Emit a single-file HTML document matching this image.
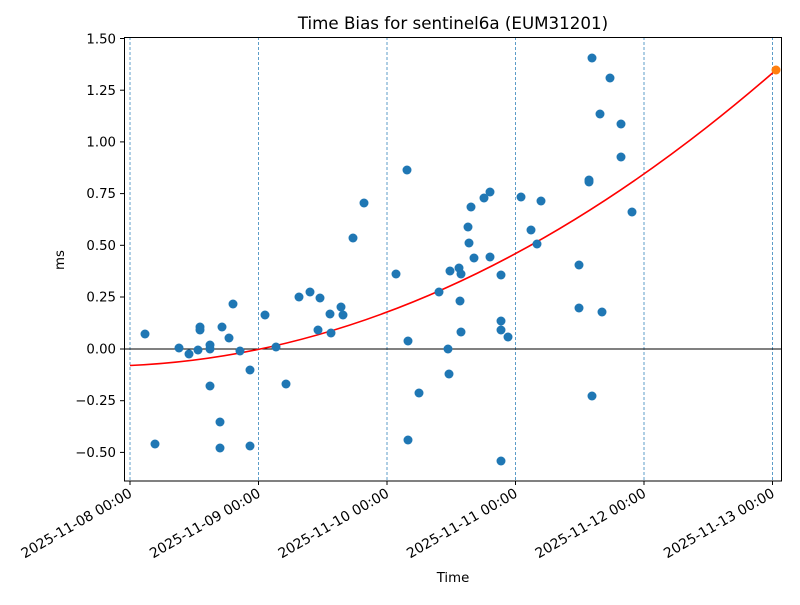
<!DOCTYPE html><html><head><style>body{margin:0;background:#fff}svg text{font-family:"DejaVu Sans","Liberation Sans",sans-serif;fill:#000}</style></head><body>
<svg width="800" height="600" xmlns="http://www.w3.org/2000/svg">
<rect width="800" height="600" fill="#fff"/>
<g stroke="#1f77b4" stroke-width="0.8" stroke-dasharray="3,2" opacity="0.9">
<line x1="130" y1="37" x2="130" y2="481"/><line x1="258.5" y1="37" x2="258.5" y2="481"/><line x1="387" y1="37" x2="387" y2="481"/><line x1="515.5" y1="37" x2="515.5" y2="481"/><line x1="644" y1="37" x2="644" y2="481"/><line x1="772.5" y1="37" x2="772.5" y2="481"/>
</g>
<line x1="124" y1="349" x2="782" y2="349" stroke="#000" stroke-width="1"/>
<path d="M130 365.5 Q453 351.6 776 70" fill="none" stroke="red" stroke-width="1.6"/>
<g fill="#1f77b4">
<circle cx="145" cy="334" r="4.5"/><circle cx="155" cy="444" r="4.5"/><circle cx="179" cy="348" r="4.5"/><circle cx="189" cy="354" r="4.5"/><circle cx="198" cy="350" r="4.5"/><circle cx="200" cy="327" r="4.5"/><circle cx="200" cy="330" r="4.5"/><circle cx="210" cy="345" r="4.5"/><circle cx="210" cy="349" r="4.5"/><circle cx="210" cy="386" r="4.5"/><circle cx="220" cy="422" r="4.5"/><circle cx="220" cy="448" r="4.5"/><circle cx="222" cy="327" r="4.5"/><circle cx="229" cy="338" r="4.5"/><circle cx="233" cy="304" r="4.5"/><circle cx="240" cy="351" r="4.5"/><circle cx="250" cy="370" r="4.5"/><circle cx="250" cy="446" r="4.5"/><circle cx="265" cy="315" r="4.5"/><circle cx="276" cy="347" r="4.5"/><circle cx="286" cy="384" r="4.5"/><circle cx="299" cy="297" r="4.5"/><circle cx="310" cy="292" r="4.5"/><circle cx="318" cy="330" r="4.5"/><circle cx="320" cy="298" r="4.5"/><circle cx="330" cy="314" r="4.5"/><circle cx="331" cy="333" r="4.5"/><circle cx="341" cy="307" r="4.5"/><circle cx="343" cy="315" r="4.5"/><circle cx="353" cy="238" r="4.5"/><circle cx="364" cy="203" r="4.5"/><circle cx="396" cy="274" r="4.5"/><circle cx="407" cy="170" r="4.5"/><circle cx="408" cy="341" r="4.5"/><circle cx="408" cy="440" r="4.5"/><circle cx="419" cy="393" r="4.5"/><circle cx="439" cy="292" r="4.5"/><circle cx="448" cy="349" r="4.5"/><circle cx="449" cy="374" r="4.5"/><circle cx="450" cy="271" r="4.5"/><circle cx="459" cy="268" r="4.5"/><circle cx="460" cy="301" r="4.5"/><circle cx="461" cy="274" r="4.5"/><circle cx="461" cy="332" r="4.5"/><circle cx="468" cy="227" r="4.5"/><circle cx="469" cy="243" r="4.5"/><circle cx="471" cy="207" r="4.5"/><circle cx="474" cy="258" r="4.5"/><circle cx="484" cy="198" r="4.5"/><circle cx="490" cy="192" r="4.5"/><circle cx="490" cy="257" r="4.5"/><circle cx="501" cy="275" r="4.5"/><circle cx="501" cy="321" r="4.5"/><circle cx="501" cy="330" r="4.5"/><circle cx="501" cy="461" r="4.5"/><circle cx="508" cy="337" r="4.5"/><circle cx="521" cy="197" r="4.5"/><circle cx="531" cy="230" r="4.5"/><circle cx="537" cy="244" r="4.5"/><circle cx="541" cy="201" r="4.5"/><circle cx="579" cy="265" r="4.5"/><circle cx="579" cy="308" r="4.5"/><circle cx="589" cy="180" r="4.5"/><circle cx="589" cy="182" r="4.5"/><circle cx="592" cy="58" r="4.5"/><circle cx="592" cy="396" r="4.5"/><circle cx="600" cy="114" r="4.5"/><circle cx="602" cy="312" r="4.5"/><circle cx="610" cy="78" r="4.5"/><circle cx="621" cy="124" r="4.5"/><circle cx="621" cy="157" r="4.5"/><circle cx="632" cy="212" r="4.5"/>
</g>
<circle cx="776" cy="70" r="4.5" fill="#ff7f0e"/>
<rect x="124.5" y="37.5" width="657" height="443.5" fill="none" stroke="#000" stroke-width="1"/>
<g stroke="#000" stroke-width="1">
<line x1="120" y1="38.5" x2="124" y2="38.5"/><line x1="120" y1="90.2" x2="124" y2="90.2"/><line x1="120" y1="141.9" x2="124" y2="141.9"/><line x1="120" y1="193.6" x2="124" y2="193.6"/><line x1="120" y1="245.3" x2="124" y2="245.3"/><line x1="120" y1="297" x2="124" y2="297"/><line x1="120" y1="349" x2="124" y2="349"/><line x1="120" y1="400.7" x2="124" y2="400.7"/><line x1="120" y1="452.4" x2="124" y2="452.4"/>
<line x1="130" y1="481" x2="130" y2="485"/><line x1="258.5" y1="481" x2="258.5" y2="485"/><line x1="387" y1="481" x2="387" y2="485"/><line x1="515.5" y1="481" x2="515.5" y2="485"/><line x1="644" y1="481" x2="644" y2="485"/><line x1="772.5" y1="481" x2="772.5" y2="485"/>
</g>
<g font-size="13.3" text-anchor="end">
<text x="116" y="43.5">1.50</text><text x="116" y="95">1.25</text><text x="116" y="146.5">1.00</text><text x="116" y="198">0.75</text><text x="116" y="250">0.50</text><text x="116" y="301.5">0.25</text><text x="116" y="353.5">0.00</text><text x="116" y="405">−0.25</text><text x="116" y="457">−0.50</text>
</g>
<g font-size="13.9" text-anchor="end">
<text transform="translate(133,496) rotate(-30)">2025-11-08 00:00</text>
<text transform="translate(261.5,496) rotate(-30)">2025-11-09 00:00</text>
<text transform="translate(390,496) rotate(-30)">2025-11-10 00:00</text>
<text transform="translate(518.5,496) rotate(-30)">2025-11-11 00:00</text>
<text transform="translate(647,496) rotate(-30)">2025-11-12 00:00</text>
<text transform="translate(775.5,496) rotate(-30)">2025-11-13 00:00</text>
</g>
<text x="453" y="29" font-size="16.7" text-anchor="middle">Time Bias for sentinel6a (EUM31201)</text>
<text x="453" y="582" font-size="13.3" text-anchor="middle">Time</text>
<text transform="translate(64,260) rotate(-90)" font-size="13.3" text-anchor="middle">ms</text>
</svg>
</body></html>
